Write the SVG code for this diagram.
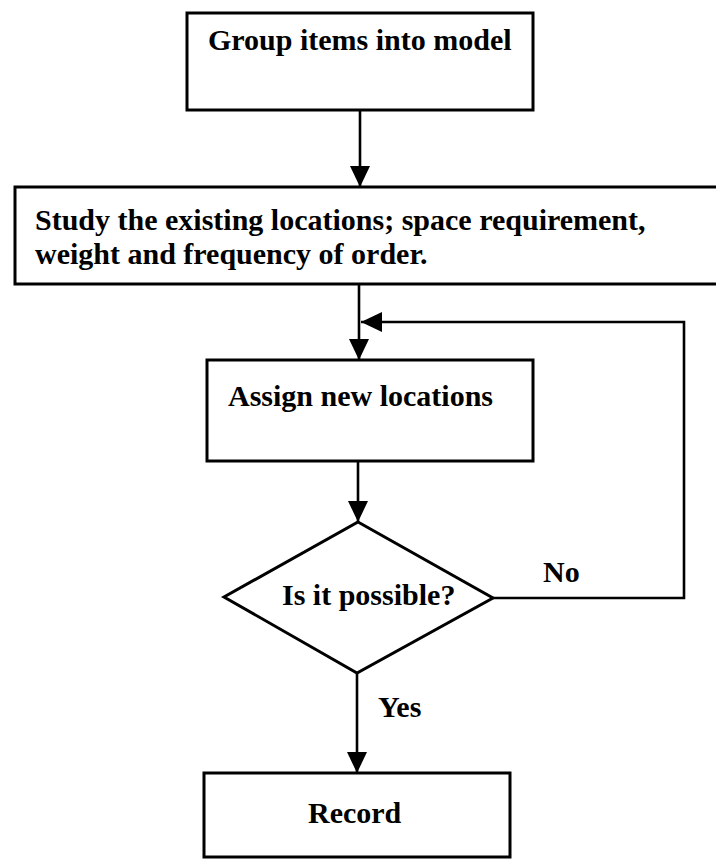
<svg xmlns="http://www.w3.org/2000/svg" width="716" height="868" viewBox="0 0 716 868">
  <style>
    .box { fill: #ffffff; stroke: #000000; stroke-width: 3; }
    .conn { fill: none; stroke: #000000; stroke-width: 2.6; }
    .lbl { font-family: "Liberation Serif", "Times New Roman", serif; font-weight: bold; font-size: 30px; fill: #000000; }
  </style>
  <defs>
    <marker id="arrow" markerUnits="userSpaceOnUse" markerWidth="22" markerHeight="22" refX="21" refY="10" orient="auto">
      <path d="M0,0 L21,10 L0,20 Z" fill="#000000"/>
    </marker>
  </defs>
  <rect width="716" height="868" fill="#ffffff"/>

  <g id="connectors">
    <line class="conn" x1="360" y1="110" x2="360" y2="187" marker-end="url(#arrow)"/>
    <line class="conn" x1="359" y1="284" x2="359" y2="360" marker-end="url(#arrow)"/>
    <polyline class="conn" points="493,598 684,598 684,322 361,322" marker-end="url(#arrow)"/>
    <line class="conn" x1="358" y1="461" x2="358" y2="522" marker-end="url(#arrow)"/>
    <line class="conn" x1="357" y1="673" x2="357" y2="773" marker-end="url(#arrow)"/>
    <text class="lbl" x="543" y="582">No</text>
    <text class="lbl" x="378" y="717">Yes</text>
  </g>

  <g id="node-group">
    <rect class="box" x="187" y="13" width="346" height="97"/>
    <text class="lbl" x="208" y="50">Group items into model</text>
  </g>

  <g id="node-study">
    <rect class="box" x="15" y="187" width="720" height="97"/>
    <text class="lbl" x="35" y="230">Study the existing locations; space requirement,</text>
    <text class="lbl" x="35" y="264">weight and frequency of order.</text>
  </g>

  <g id="node-assign">
    <rect class="box" x="207" y="360" width="326" height="101"/>
    <text class="lbl" x="228" y="406">Assign new locations</text>
  </g>

  <g id="node-decision">
    <polygon class="box" points="358,522 493,598 357,673 224,597"/>
    <text class="lbl" x="282" y="605">Is it possible?</text>
  </g>

  <g id="node-record">
    <rect class="box" x="204" y="773" width="306" height="84"/>
    <text class="lbl" x="308" y="823">Record</text>
  </g>
</svg>
